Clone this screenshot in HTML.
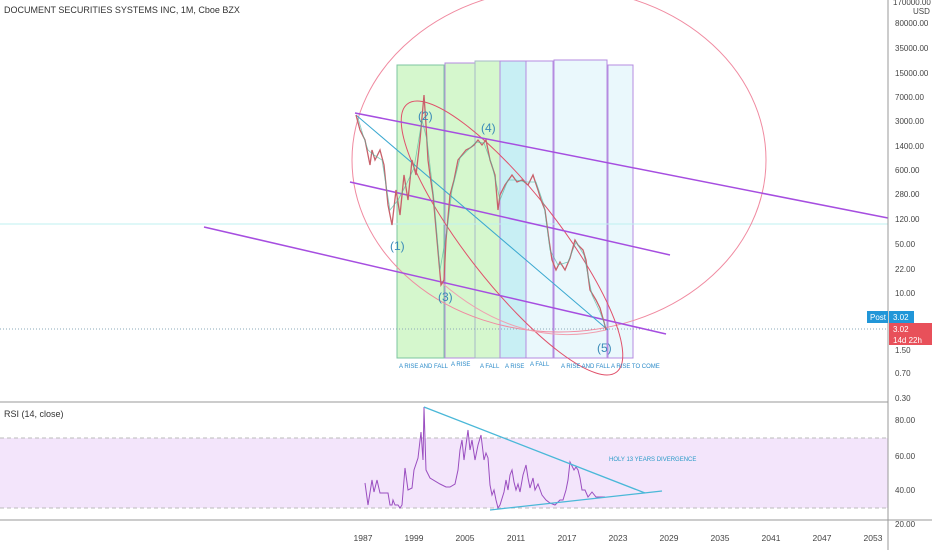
<!DOCTYPE html><html><head><style>
body{margin:0;background:#fff;width:932px;height:550px;overflow:hidden;font-family:"Liberation Sans",sans-serif}
svg text{font-family:"Liberation Sans",sans-serif}
</style></head><body>
<svg width="932" height="550" xmlns="http://www.w3.org/2000/svg">
<rect width="932" height="550" fill="#fff"/>
<rect x="0" y="438" width="888" height="70" fill="#f3e5fb"/>
<line x1="0" y1="438" x2="888" y2="438" stroke="#bbb" stroke-dasharray="4,3"/>
<line x1="0" y1="508" x2="888" y2="508" stroke="#bbb" stroke-dasharray="4,3"/>
<rect x="397" y="65" width="47" height="293" fill="#d5f7cd" stroke="#7cc5a0"/>
<rect x="445" y="63" width="30" height="295" fill="#d5f7cd" stroke="#b58be0"/>
<rect x="475" y="61" width="25" height="297" fill="#d5f7cd" stroke="#a6b9c6"/>
<rect x="500" y="61" width="26" height="297" fill="#c8eff4" stroke="#b58be0"/>
<rect x="526" y="61" width="27" height="297" fill="#eaf8fc" stroke="#b58be0"/>
<rect x="554" y="60" width="53" height="298" fill="#eaf8fc" stroke="#b58be0"/>
<rect x="608" y="65" width="25" height="293" fill="#eaf8fc" stroke="#b58be0"/>
<line x1="0" y1="224" x2="888" y2="224" stroke="#bff0f0" stroke-width="1"/>
<line x1="0" y1="329" x2="888" y2="329" stroke="#8aa8b8" stroke-dasharray="1,2"/>
<ellipse cx="559" cy="160" rx="207" ry="172" fill="none" stroke="#f08aa0" stroke-width="1"/>
<ellipse cx="512" cy="238" rx="170" ry="46" transform="rotate(52 512 238)" fill="none" stroke="#e0506a" stroke-width="1"/>
<path d="M442 283 Q520 350 606 330" fill="none" stroke="#f0a0b0"/>
<line x1="355" y1="113" x2="888" y2="218" stroke="#a64ee0" stroke-width="1.5"/>
<line x1="350" y1="182" x2="670" y2="255" stroke="#a64ee0" stroke-width="1.5"/>
<line x1="204" y1="227" x2="666" y2="334" stroke="#a64ee0" stroke-width="1.5"/>
<line x1="356" y1="115" x2="608" y2="330" stroke="#3aa8d0" stroke-width="1"/>
<polyline fill="none" stroke="#c8606a" stroke-width="1.3" points="356,115 360,130 365,140 370,165 372,150 375,160 380,150 384,165 388,205 392,225 396,190 400,215 404,175 408,200 412,160 416,175 420,140 424,95 426,125 428,160 430,175 433,195 437,240 441,285 444,280 446,240 450,195 454,180 458,160 462,155 466,150 470,148 474,145 478,140 482,145 486,140 490,160 495,175 498,210 500,195 505,185 512,175 517,182 522,180 528,185 533,175 538,190 541,200 545,210 549,240 552,260 556,270 560,262 565,270 570,258 575,240 578,245 583,250 586,260 590,290 596,300 600,308 604,322 606,330"/>
<polyline fill="none" stroke="#4fb8a0" stroke-width="0.8" opacity="0.7" points="358,118 363,135 368,150 374,155 382,160 390,210 398,200 406,185 414,168 422,120 427,140 434,200 440,270 447,230 452,190 460,158 468,150 476,142 484,143 492,165 500,200 508,180 516,180 526,182 536,182 544,205 550,250 558,265 568,262 576,242 584,255 592,295 600,312 606,328"/>
<g fill="#3a8ab8" font-size="12"><text x="418" y="120">(2)</text><text x="481" y="132">(4)</text><text x="390" y="250">(1)</text><text x="438" y="301">(3)</text><text x="597" y="352">(5)</text></g>
<g fill="#2a8ac8" font-size="6"><text x="399" y="368">A RISE AND FALL</text><text x="451" y="366">A RISE</text><text x="480" y="368">A FALL</text><text x="505" y="368">A RISE</text><text x="530" y="366">A FALL</text><text x="561" y="368">A RISE AND FALL</text><text x="611" y="368">A RISE TO COME</text></g>
<line x1="0" y1="402" x2="888" y2="402" stroke="#999" stroke-width="1"/>
<line x1="0" y1="520" x2="932" y2="520" stroke="#999" stroke-width="1"/>
<line x1="888" y1="0" x2="888" y2="550" stroke="#999" stroke-width="1"/>
<polyline fill="none" stroke="#9a4ec0" stroke-width="1" points="365,483 368,505 372,480 374,492 377,480 380,493 385,493 388,493 390,505 392,505 393,500 395,505 398,505 400,508 402,505 405,468 408,490 412,488 414,470 418,458 421,432 423,460 424,407 426,470 430,478 440,484 446,487 450,487 455,484 458,470 460,450 462,440 464,460 466,445 468,430 470,450 472,440 475,460 478,445 481,435 484,460 486,453 488,458 490,485 492,495 494,490 496,500 498,508 500,505 504,492 506,480 508,490 510,475 512,470 514,482 516,490 518,484 520,492 523,475 526,465 528,478 530,488 533,478 535,490 538,484 542,495 546,500 550,503 555,505 560,500 563,500 566,490 568,480 570,462 574,470 576,467 578,470 580,478 582,490 585,490 588,497 592,492 596,497 600,497 605,497"/>
<line x1="424" y1="407" x2="645" y2="493" stroke="#4ab8d8" stroke-width="1.3"/>
<line x1="490" y1="510" x2="662" y2="491" stroke="#4ab8d8" stroke-width="1.3"/>
<text x="609" y="461" fill="#2a9ac8" font-size="6">HOLY 13 YEARS DIVERGENCE</text>
<text x="4" y="417" fill="#333" font-size="9">RSI (14, close)</text>
<text x="4" y="13" fill="#333" font-size="9">DOCUMENT SECURITIES SYSTEMS INC, 1M, Cboe BZX</text>
<g fill="#444" font-size="8">
<text x="893" y="5">170000.00</text><text x="913" y="14">USD</text>
<text x="895" y="26">80000.00</text><text x="895" y="51">35000.00</text><text x="895" y="76">15000.00</text>
<text x="895" y="100">7000.00</text><text x="895" y="124">3000.00</text><text x="895" y="149">1400.00</text>
<text x="895" y="173">600.00</text><text x="895" y="197">280.00</text><text x="895" y="222">120.00</text>
<text x="895" y="247">50.00</text><text x="895" y="272">22.00</text><text x="895" y="296">10.00</text>
<text x="895" y="353">1.50</text><text x="895" y="376">0.70</text><text x="895" y="401">0.30</text>
<text x="895" y="423">80.00</text><text x="895" y="459">60.00</text><text x="895" y="493">40.00</text><text x="895" y="527">20.00</text>
</g>
<rect x="867" y="311" width="21" height="12" fill="#2196d8"/><text x="870" y="320" fill="#fff" font-size="8">Post</text>
<rect x="889" y="311" width="25" height="12" fill="#2196d8"/><text x="893" y="320" fill="#fff" font-size="8">3.02</text>
<rect x="889" y="323" width="43" height="22" fill="#e8505a"/><text x="893" y="332" fill="#fff" font-size="8">3.02</text><text x="893" y="343" fill="#fff" font-size="8">14d 22h</text>
<g fill="#444" font-size="8.5" text-anchor="middle">
<text x="363" y="541">1987</text><text x="414" y="541">1999</text><text x="465" y="541">2005</text><text x="516" y="541">2011</text><text x="567" y="541">2017</text><text x="618" y="541">2023</text><text x="669" y="541">2029</text><text x="720" y="541">2035</text><text x="771" y="541">2041</text><text x="822" y="541">2047</text><text x="873" y="541">2053</text>
</g>
</svg>
</body></html>
